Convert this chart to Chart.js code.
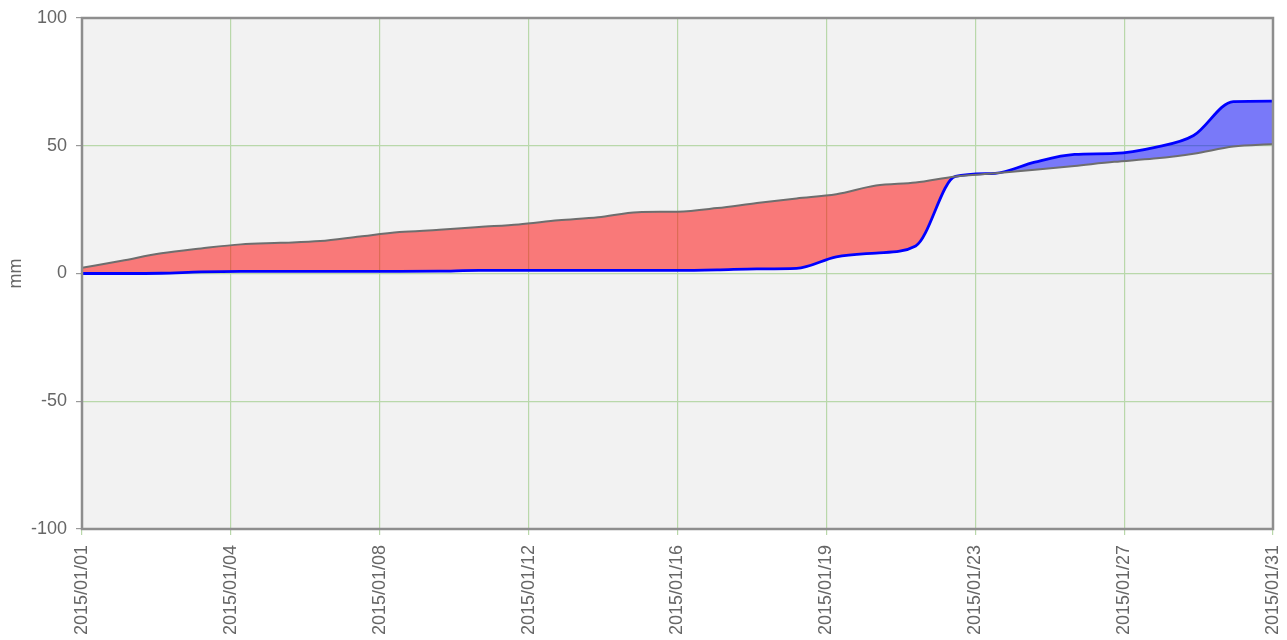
<!DOCTYPE html>
<html>
<head>
<meta charset="utf-8">
<script src="https://cdn.jsdelivr.net/npm/chart.js@4/dist/chart.umd.min.js"></script>
<style>
  html, body { margin: 0; padding: 0; background: #ffffff; }
  #wrap { width: 1287px; height: 640px; position: relative; }
</style>
</head>
<body>
<div id="wrap"><canvas id="c" width="1287" height="640"></canvas></div>
<script>
// Day offsets from 2015/01/01
const days = [0,1,2,3,4,5,6,7,8,9,10,11,12,13,14,15,16,17,18,19,20,21,22,23,24,25,26,27,28,29,30];
// Gray series (reference cumulative, mm)
const grayValues = [2.2,5.0,7.9,9.8,11.4,12.0,12.7,14.5,16.2,17.1,18.2,19.2,20.8,22.0,24.0,24.2,25.6,27.6,29.4,31.0,34.4,35.6,38.0,39.2,40.6,42.1,43.7,45.0,46.9,49.7,50.7];
// Blue series (observed cumulative, mm)
const blueValues = [0,0,0.1,0.6,0.8,0.8,0.8,0.8,0.8,0.9,1.2,1.2,1.2,1.2,1.2,1.2,1.4,1.8,2.0,6.5,8.0,10.8,38.0,39.2,43.6,46.6,47.0,49.3,54.0,67.3,67.5];
// X tick positions (day offsets) and labels
const xTickPositions = [0,3.75,7.5,11.25,15,18.75,22.5,26.25,30];
const xTickLabels = ['2015/01/01','2015/01/04','2015/01/08','2015/01/12','2015/01/16','2015/01/19','2015/01/23','2015/01/27','2015/01/31'];
const yTicks = [-100,-50,0,50,100];

const grayPts = days.map((d,i)=>({x:d, y:grayValues[i]}));
const bluePts = days.map((d,i)=>({x:d, y:blueValues[i]}));

const bgPlugin = {
  id: 'bg',
  beforeDraw(chart) {
    const {ctx, chartArea:a} = chart;
    ctx.save();
    ctx.fillStyle = '#f2f2f2';
    ctx.fillRect(a.left, a.top, a.right-a.left, a.bottom-a.top);
    ctx.restore();
  },
  afterDraw(chart) {
    const {ctx, chartArea:a} = chart;
    ctx.save();
    ctx.strokeStyle = '#8e8e8e';
    ctx.lineWidth = 2.5;
    ctx.strokeRect(a.left, a.top, a.right-a.left, a.bottom-a.top);
    ctx.restore();
  }
};

const font = {family: "'Liberation Sans', Arial, sans-serif", size: 18};
const gridColor = '#b9d8aa';

new Chart(document.getElementById('c'), {
  type: 'line',
  data: {
    datasets: [
      {
        label: 'gray',
        data: grayPts,
        borderColor: '#6e6e6e',
        borderWidth: 2,
        pointRadius: 0,
        cubicInterpolationMode: 'monotone',
        fill: false,
        order: 0
      },
      {
        label: 'blue',
        data: bluePts,
        borderColor: '#0000ff',
        borderWidth: 2.8,
        pointRadius: 0,
        cubicInterpolationMode: 'monotone',
        fill: {target: 0, above: 'rgba(0,0,255,0.5)', below: 'rgba(255,0,0,0.5)'},
        order: 1
      }
    ]
  },
  options: {
    responsive: false,
    animation: false,
    devicePixelRatio: 1,
    layout: {padding: {top: 18, right: 14, left: 5, bottom: 0}},
    plugins: {legend: {display: false}, tooltip: {enabled: false}},
    scales: {
      x: {
        type: 'linear',
        min: 0, max: 30,
        afterBuildTicks(scale) { scale.ticks = xTickPositions.map(v=>({value:v})); },
        afterFit(scale) { scale.height = 111; scale.paddingLeft = 0; scale.paddingRight = 0; },
        ticks: {
          autoSkip: false,
          maxRotation: 90, minRotation: 90,
          color: '#666666',
          font: font,
          padding: 10,
          callback: (v, i) => xTickLabels[i]
        },
        grid: {color: gridColor, lineWidth: 1.2, drawTicks: true, tickLength: 6},
        border: {display: false}
      },
      y: {
        min: -100, max: 100,
        afterBuildTicks(scale) { scale.ticks = yTicks.map(v=>({value:v})); },
        afterFit(scale) { scale.width = 77; scale.paddingTop = 0; scale.paddingBottom = 0; },
        ticks: {color: '#666666', font: font, padding: 9},
        grid: {color: gridColor, lineWidth: 1.2, drawTicks: true, tickLength: 6, tickColor: '#999999'},
        border: {display: false},
        title: {display: true, text: 'mm', color: '#666666', font: font, padding: 0}
      }
    }
  },
  plugins: [bgPlugin]
});
</script>
</body>
</html>
